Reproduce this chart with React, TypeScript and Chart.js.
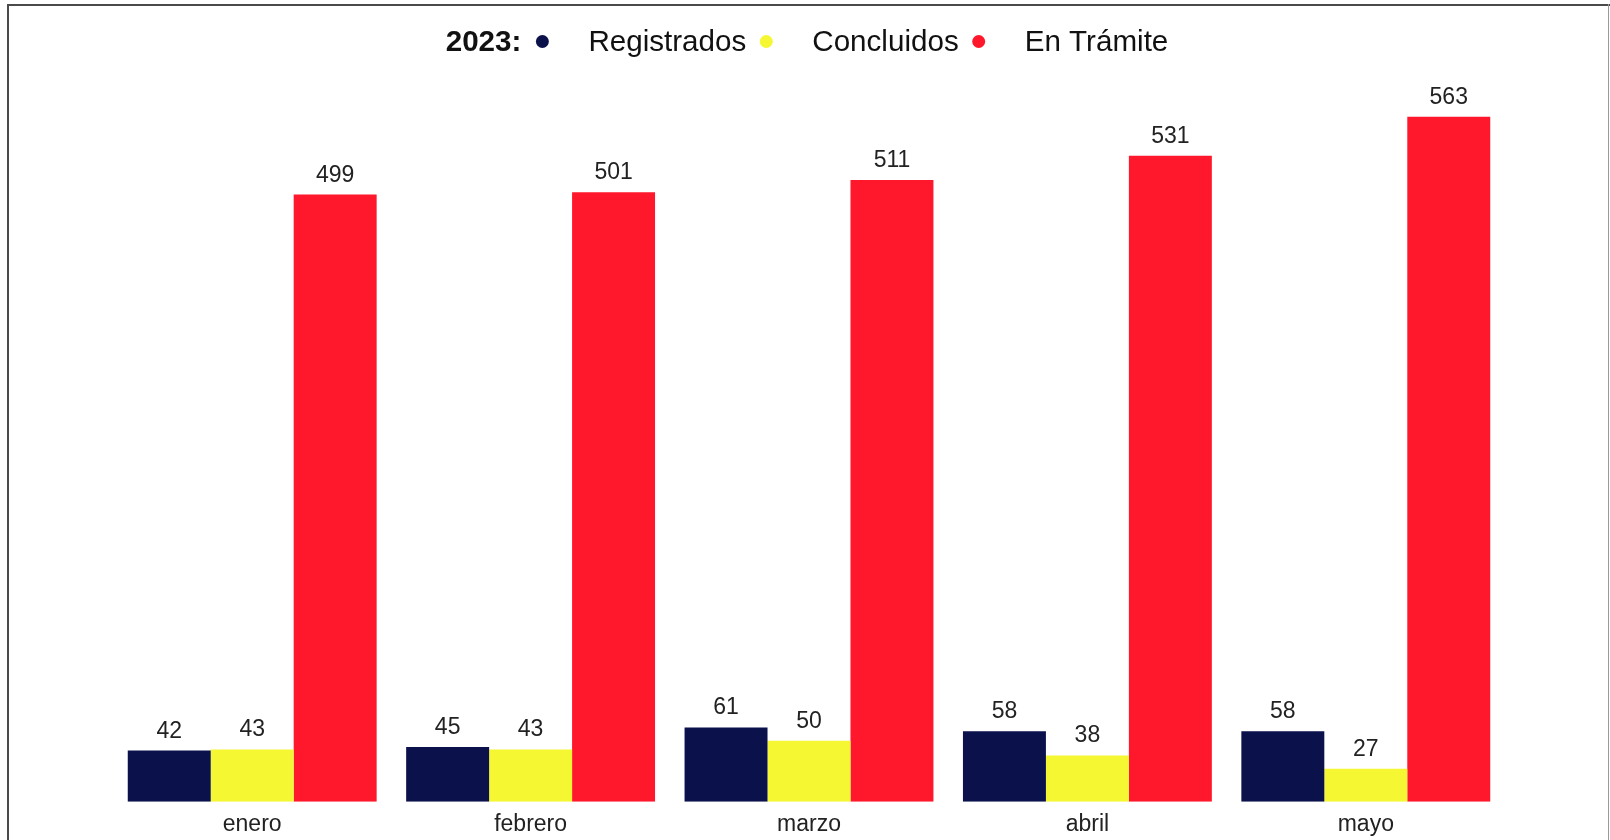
import React, { useEffect, useRef } from "react";
import { Chart, registerables } from "chart.js";

Chart.register(...registerables);

const categories = ["enero", "febrero", "marzo", "abril", "mayo"];
const registrados = [42, 45, 61, 58, 58];
const concluidos = [43, 43, 50, 38, 27];
const enTramite = [499, 501, 511, 531, 563];
const legendTitle = "2023:";
const seriesNames = ["Registrados", "Concluidos", "En Trámite"];
const seriesColors = ["#0A114B", "#F5F733", "#FF172B"];

const FONT = "'Liberation Sans', Arial, Helvetica, sans-serif";

const valueLabels = {
  id: "valueLabels",
  afterDatasetsDraw(chart: any) {
    const ctx = chart.ctx;
    ctx.save();
    ctx.font = `23px ${FONT}`;
    ctx.fillStyle = "#222222";
    ctx.textAlign = "center";
    ctx.textBaseline = "alphabetic";
    chart.data.datasets.forEach((ds: any, i: number) => {
      const meta = chart.getDatasetMeta(i);
      meta.data.forEach((el: any, j: number) => {
        ctx.fillText(String(ds.data[j]), el.x, el.y - 13);
      });
    });
    ctx.restore();
  },
};

const inlineLegend = {
  id: "inlineLegend",
  afterDraw(chart: any) {
    const ctx = chart.ctx;
    ctx.save();
    const y = 42.5;
    const titleToDot = 21;
    const dotToText = 46;
    const textToDot = 20;
    const r = 6.5;
    const size = 29.6;
    ctx.textBaseline = "middle";
    ctx.textAlign = "left";
    ctx.font = `bold ${size}px ${FONT}`;
    const tW = ctx.measureText(legendTitle).width;
    ctx.font = `${size}px ${FONT}`;
    const widths = seriesNames.map((n) => ctx.measureText(n).width);
    const total =
      tW +
      titleToDot +
      seriesNames.length * dotToText +
      widths.reduce((a, b) => a + b, 0) +
      (seriesNames.length - 1) * textToDot;
    let x = chart.width / 2 - total / 2 + 2;
    ctx.fillStyle = "#111111";
    ctx.font = `bold ${size}px ${FONT}`;
    ctx.fillText(legendTitle, x, y);
    x += tW + titleToDot;
    ctx.font = `${size}px ${FONT}`;
    seriesNames.forEach((name, i) => {
      ctx.beginPath();
      ctx.fillStyle = seriesColors[i];
      ctx.arc(x, y - 1, r, 0, Math.PI * 2);
      ctx.fill();
      x += dotToText;
      ctx.fillStyle = "#111111";
      ctx.fillText(name, x, y);
      x += widths[i] + textToDot;
    });
    ctx.restore();
  },
};

export default function App() {
  const ref = useRef<HTMLCanvasElement | null>(null);

  useEffect(() => {
    if (!ref.current) return;
    const chart = new Chart(ref.current, {
      type: "bar",
      data: {
        labels: categories,
        datasets: [
          { label: seriesNames[0], data: registrados, backgroundColor: seriesColors[0] },
          { label: seriesNames[1], data: concluidos, backgroundColor: seriesColors[1] },
          { label: seriesNames[2], data: enTramite, backgroundColor: seriesColors[2] },
        ],
      },
      options: {
        responsive: false,
        animation: false,
        devicePixelRatio: 1,
        layout: { padding: { top: 71.7, left: 113, right: 105, bottom: 12.7 } },
        datasets: { bar: { barPercentage: 1, categoryPercentage: 0.894 } },
        plugins: {
          legend: { display: false },
          title: { display: false },
          tooltip: { enabled: false },
        },
        scales: {
          x: {
            grid: { display: false, drawTicks: false, tickLength: 0 },
            border: { display: false },
            ticks: {
              padding: 9,
              color: "#222222",
              font: { family: FONT, size: 23 },
            },
          },
          y: {
            display: false,
            min: 0,
            max: 600,
          },
        },
      },
      plugins: [valueLabels, inlineLegend],
    });
    return () => chart.destroy();
  }, []);

  return (
    <div
      style={{
        position: "fixed",
        left: 0,
        top: 0,
        width: 1610,
        height: 840,
        overflow: "hidden",
        background: "#ffffff",
      }}
    >
      <canvas ref={ref} width={1610} height={860} style={{ position: "absolute", left: 0, top: 0 }} />
      <div style={{ position: "absolute", left: 7, top: 4, width: 1603, height: 2, background: "#4a4a4a" }} />
      <div style={{ position: "absolute", left: 7, top: 4, width: 2, height: 836, background: "#4a4a4a" }} />
      <div style={{ position: "absolute", left: 1608, top: 4, width: 1, height: 836, background: "#9a9a9a" }} />
    </div>
  );
}
